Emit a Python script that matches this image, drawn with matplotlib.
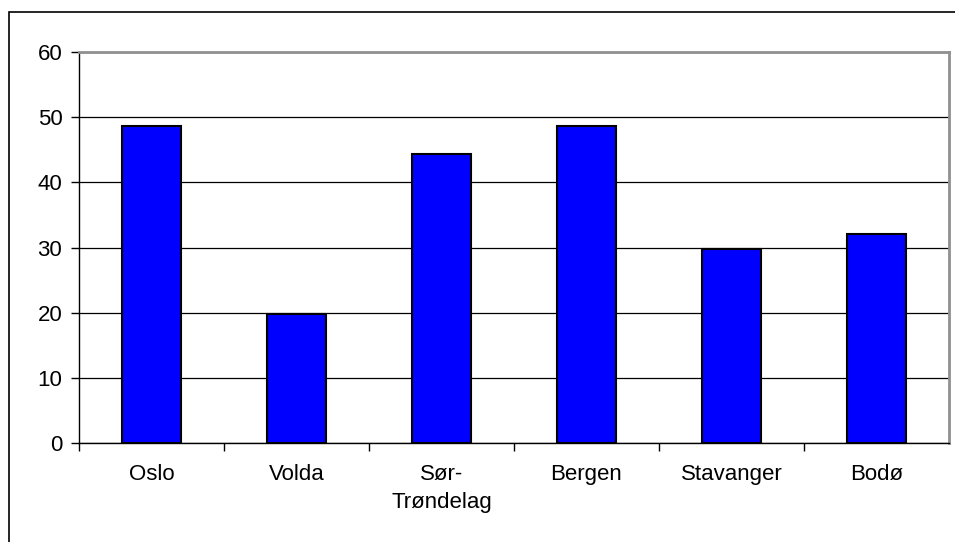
import matplotlib.pyplot as plt
from matplotlib.patches import Rectangle

steder = ["Oslo", "Volda", "Sør-\nTrøndelag", "Bergen", "Stavanger", "Bodø"]
verdier = [48.6, 19.8, 44.3, 48.6, 29.7, 32.1]
yticks = [0, 10, 20, 30, 40, 50, 60]

plt.rcParams['font.family'] = ['Liberation Sans', 'DejaVu Sans']

fig = plt.figure(figsize=(9.55, 5.42), dpi=100)
# outer chart border, runs off the right and bottom edge
fig.patches.append(Rectangle((9 / 955, -0.05), 1.0, 1 - 12 / 542 + 0.05,
                             transform=fig.transFigure, fill=False,
                             edgecolor='black', linewidth=1.2))

ax = fig.add_axes([79 / 955, 1 - 443 / 542, (949 - 79) / 955, (443 - 52) / 542])
x = list(range(len(steder)))
ax.bar(x, verdier, width=0.41, color='#0000ff', edgecolor='black',
       linewidth=1.5, zorder=3)

ax.set_ylim(0, 60)
ax.set_xlim(-0.5, len(steder) - 0.5)
ax.set_yticks(yticks)
ax.set_yticklabels([str(t) for t in yticks], fontsize=16)
ax.yaxis.grid(True, color='black', linewidth=0.9, zorder=0)
ax.set_axisbelow(True)

ax.set_xticks(x)
ax.set_xticklabels(steder, fontsize=16, linespacing=1.45)
ax.tick_params(axis='x', length=0, pad=15)
ax.set_xticks([i + 0.5 for i in x[:-1]] + [-0.5], minor=True)
ax.tick_params(axis='x', which='minor', length=6, width=1, color='black')
ax.tick_params(axis='y', length=6, width=1, pad=6)

for s in ['left', 'bottom']:
    ax.spines[s].set_color('black')
    ax.spines[s].set_linewidth(1)
for s in ['top', 'right']:
    ax.spines[s].set_color('#909090')
    ax.spines[s].set_linewidth(2)

fig.savefig('out.png', dpi=100)
